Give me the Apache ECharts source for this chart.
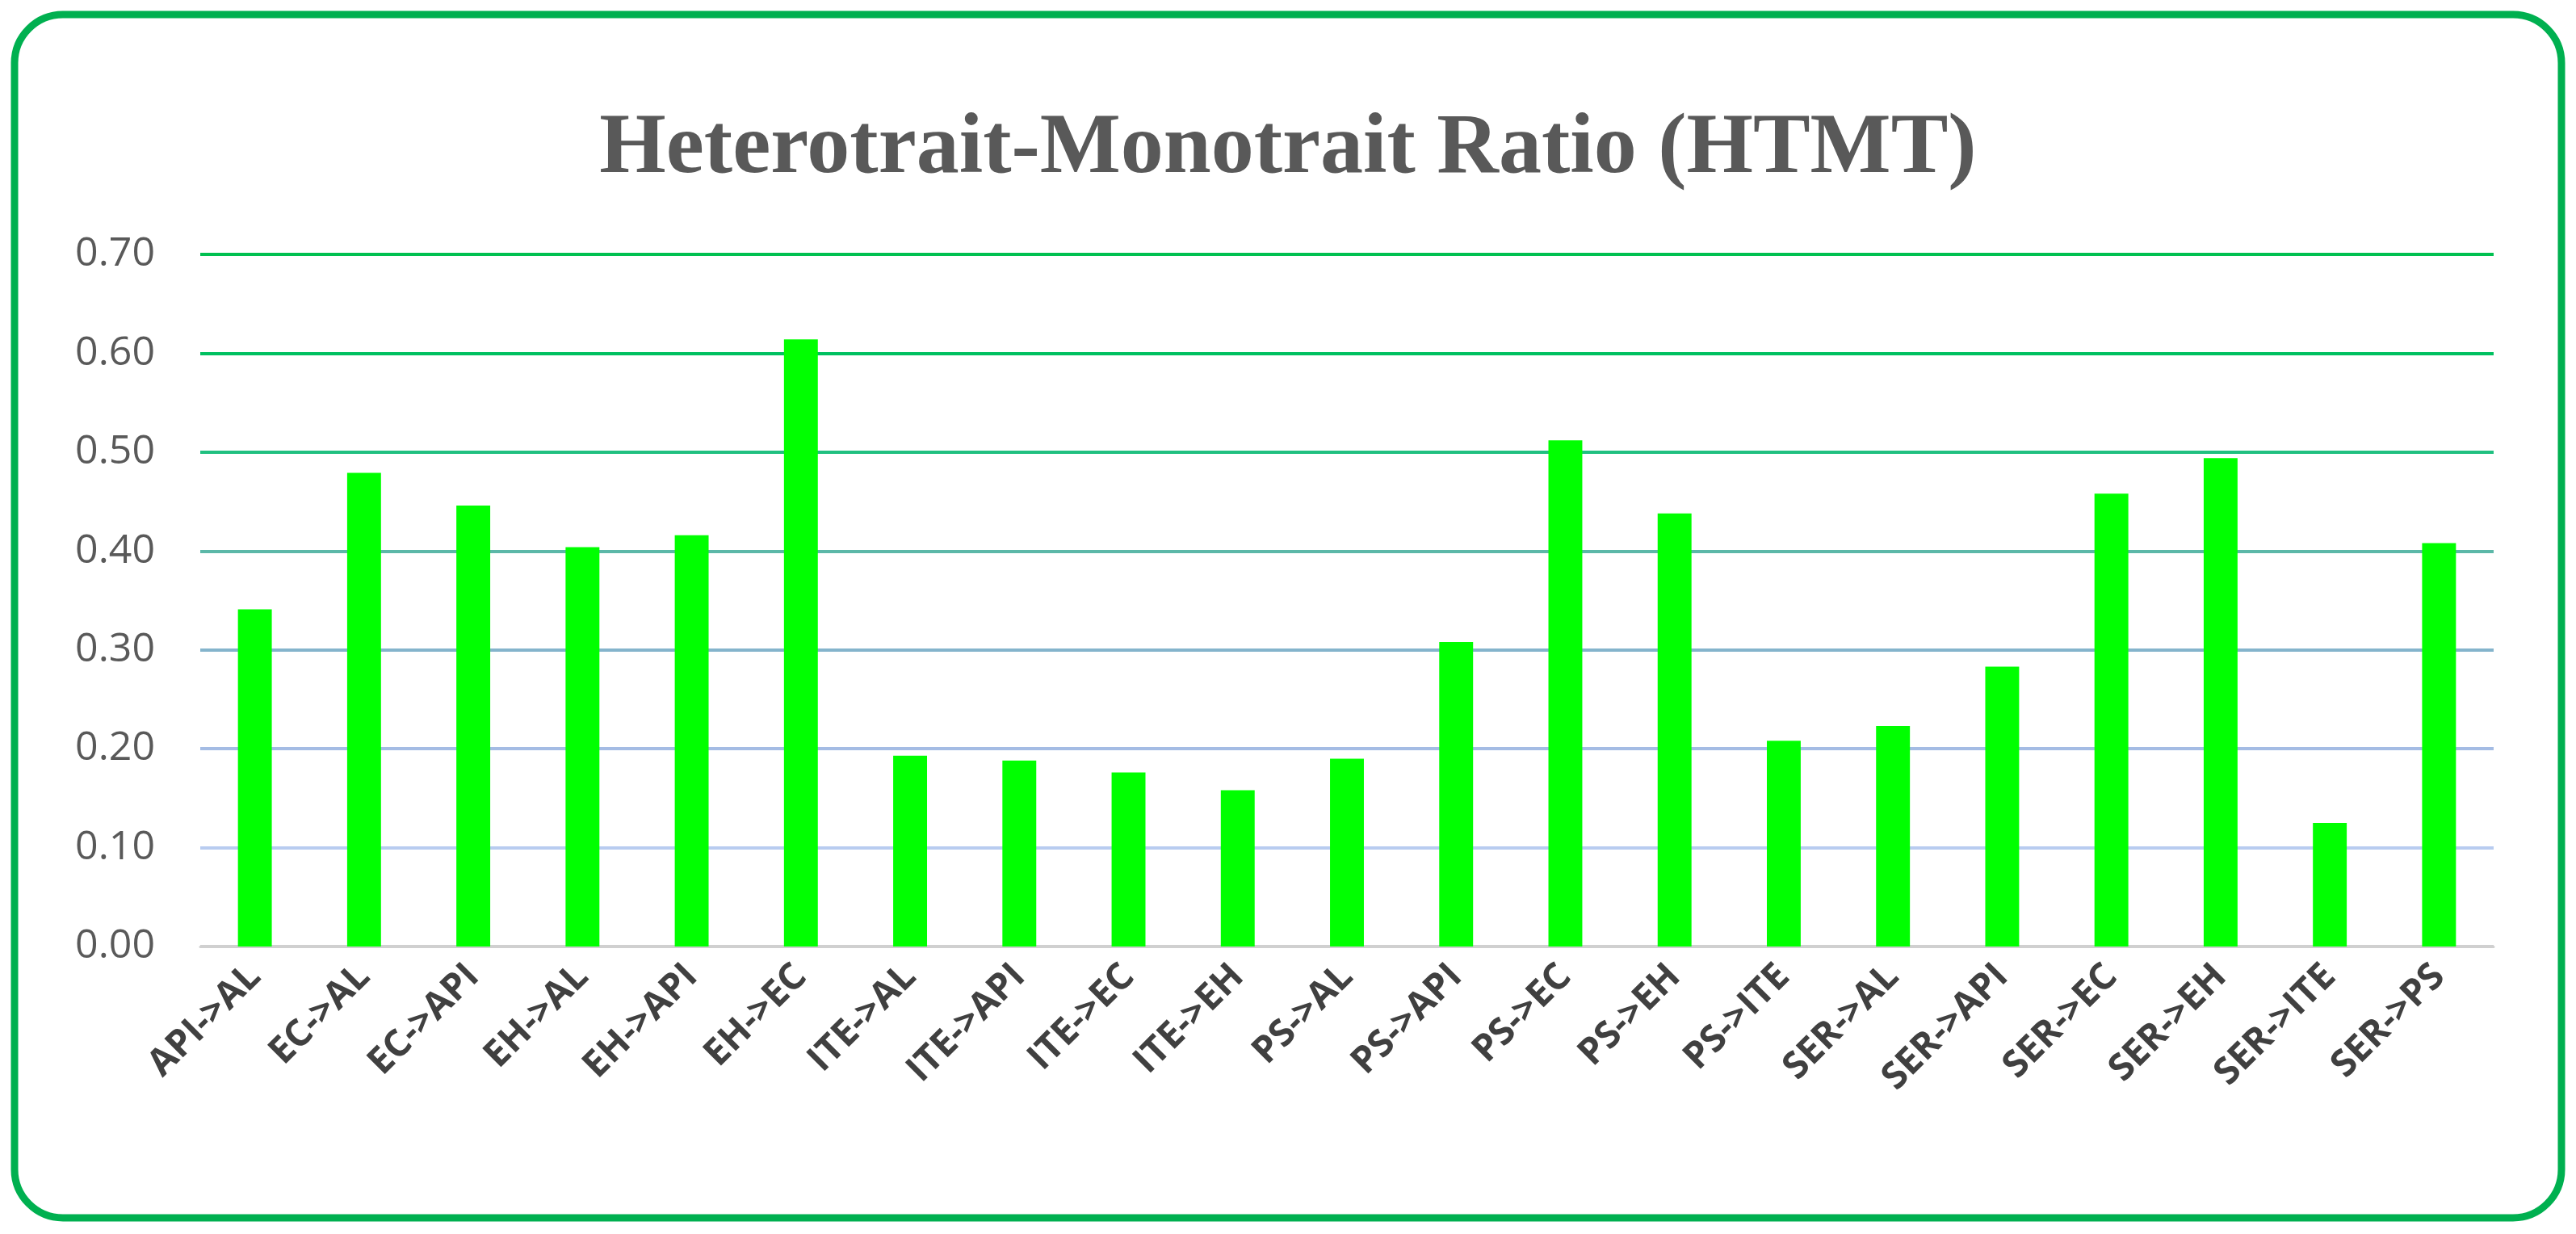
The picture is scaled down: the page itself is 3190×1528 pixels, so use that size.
<!DOCTYPE html>
<html>
<head>
<meta charset="utf-8">
<script src="https://cdn.jsdelivr.net/npm/echarts@6/dist/echarts.min.js"></script>
<style>html,body{margin:0;padding:0;background:#fff}#main{width:3190px;height:1528px}</style>
</head>
<body>
<div id="main"></div>
<script>
var categories = ['API->AL','EC->AL','EC->API','EH->AL','EH->API','EH->EC','ITE->AL','ITE->API','ITE->EC','ITE->EH',
	'PS->AL','PS->API','PS->EC','PS->EH','PS->ITE','SER->AL','SER->API','SER->EC','SER->EH','SER->ITE','SER->PS'];
var htmtValues = [0.341,0.479,0.446,0.404,0.416,0.614,0.193,0.188,0.176,0.158,
	0.190,0.308,0.512,0.438,0.208,0.223,0.283,0.458,0.494,0.125,0.408];
var gridColors = ['#d0d0d0','#b8ccf0','#a4bce4','#84b4cc','#5cb8a8','#20c080','#00c060','#00c050'];

var myChart = echarts.init(document.getElementById('main'));
var option = {
	backgroundColor: '#fff',
	title: {
		text: 'Heterotrait-Monotrait Ratio (HTMT)',
		left: 'center',
		top: 128,
		textStyle: {fontFamily: 'Liberation Serif', fontWeight: 'bold', fontSize: 106, color: '#595959'}
	},
	graphic: [{
		type: 'rect',
		shape: {x: 18, y: 18, width: 3154, height: 1490, r: 60},
		style: {fill: 'none', stroke: '#00b050', lineWidth: 9}
	}],
	grid: {left: 248, right: 102, top: 315, bottom: 356},
	xAxis: {
		type: 'category',
		data: categories,
		axisTick: {show: false},
		axisLine: {lineStyle: {color: '#d0d0d0', width: 3}},
		axisLabel: {rotate: 45, interval: 0, fontFamily: 'Open Sans', fontWeight: 'bold', fontSize: 46, color: '#404040', margin: 30}
	},
	yAxis: {
		type: 'value',
		min: 0, max: 0.7, interval: 0.1,
		axisLine: {show: false},
		axisTick: {show: false},
		axisLabel: {formatter: function (v) { return v.toFixed(2); }, fontFamily: 'Open Sans', fontSize: 50, color: '#595959', margin: 56},
		splitLine: {lineStyle: {color: gridColors, width: 4}}
	},
	series: [{
		type: 'bar',
		data: htmtValues,
		barWidth: '31%',
		itemStyle: {color: '#00ff00'}
	}]
};
myChart.setOption(option);
</script>
</body>
</html>
